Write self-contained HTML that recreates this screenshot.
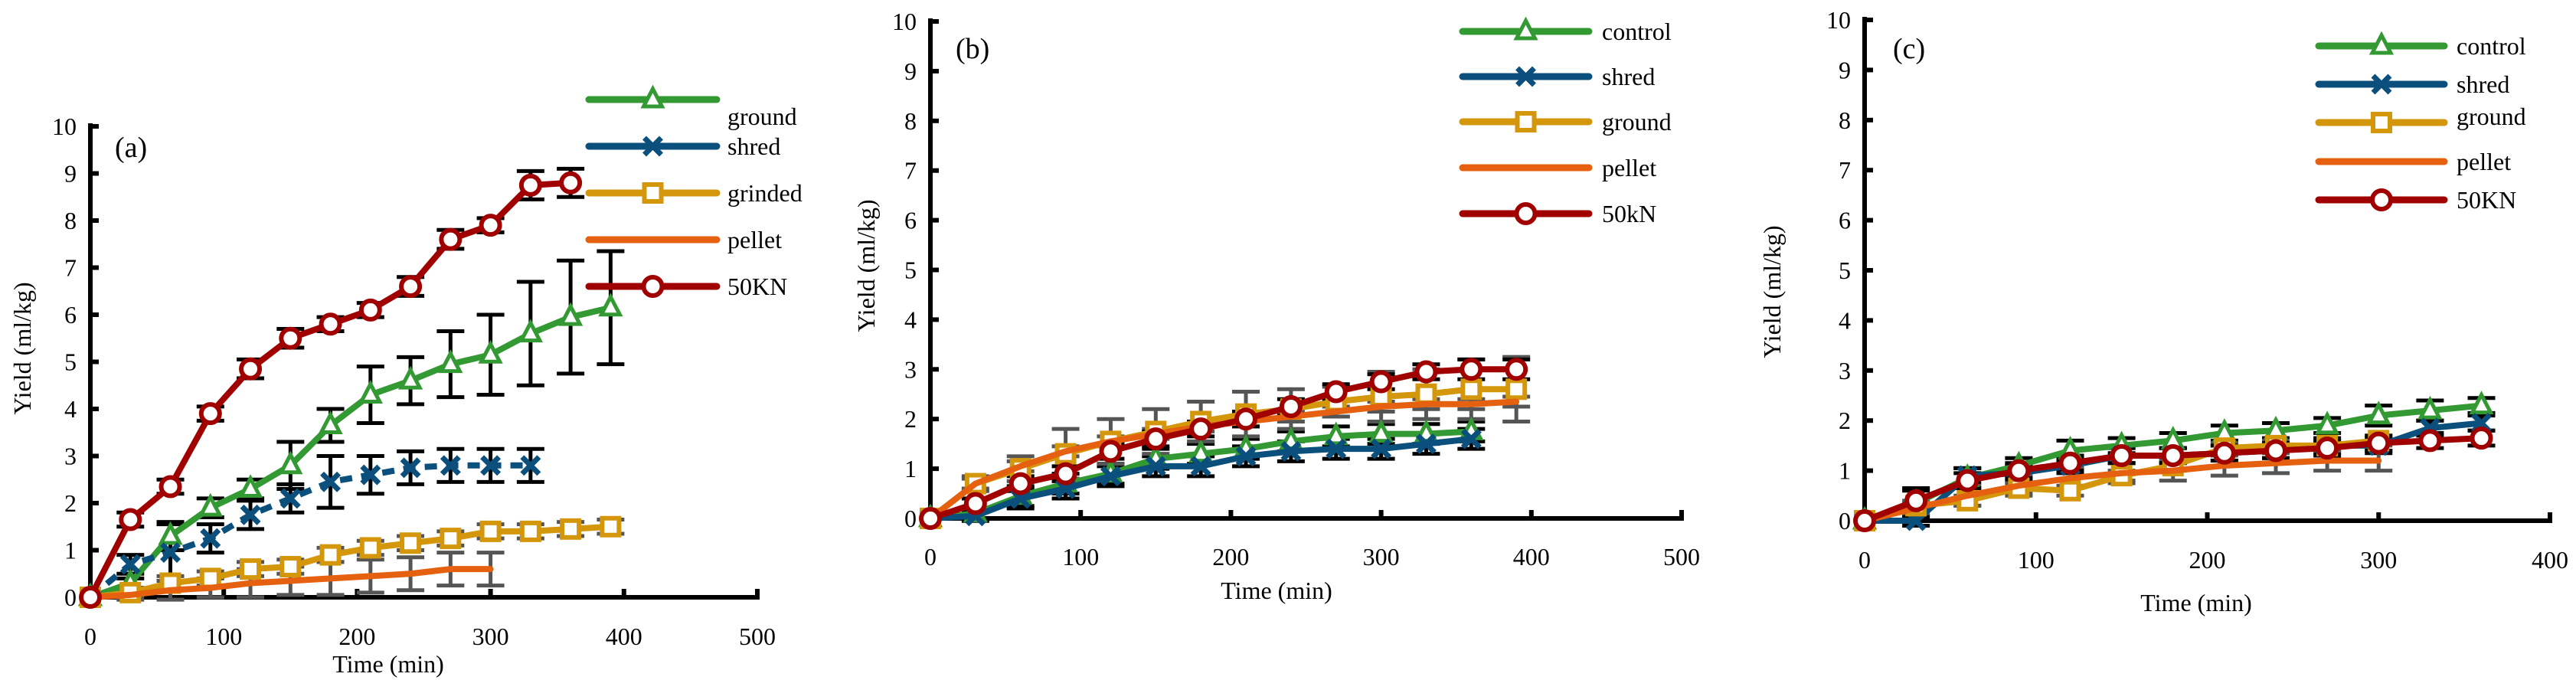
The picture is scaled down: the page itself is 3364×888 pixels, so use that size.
<!DOCTYPE html>
<html><head><meta charset="utf-8"><style>
html,body{margin:0;padding:0;background:#fff;}
svg{display:block;font-family:"Liberation Serif",serif;}
</style></head><body>
<svg id="chart" width="3364" height="888" viewBox="0 0 3364 888" xmlns="http://www.w3.org/2000/svg"></svg>
<script>
// ---- Panel (a) data ----
const aTimes = [0,30,60,90,120,150,180,210,240,270,300,330,360,390];
const aGround = [0,0.3,1.3,1.9,2.3,2.8,3.65,4.3,4.6,4.95,5.15,5.6,5.95,6.15];
const aGroundErr = [0,0.1,0.3,0.2,0.2,0.5,0.35,0.6,0.5,0.7,0.85,1.1,1.2,1.2];
const aShred = [0,0.7,0.95,1.25,1.75,2.1,2.45,2.6,2.75,2.8,2.8,2.8];
const aShredErr = [0,0.2,0.6,0.3,0.3,0.3,0.55,0.4,0.35,0.35,0.35,0.35];
const aGrinded = [0,0.1,0.3,0.4,0.6,0.65,0.9,1.05,1.15,1.25,1.4,1.4,1.45,1.5];
const aGrindedErr = [0,0.1,0.15,0.15,0.15,0.15,0.15,0.15,0.15,0.15,0.15,0.15,0.15,0.15];
const aPellet = [0,0.05,0.15,0.2,0.3,0.35,0.4,0.45,0.5,0.6,0.6];
const aPelletErr = [0,0.1,0.2,0.2,0.3,0.3,0.35,0.35,0.35,0.35,0.35];
const a50KN = [0,1.65,2.35,3.9,4.85,5.5,5.8,6.1,6.6,7.6,7.9,8.75,8.8];
const a50KNErr = [0,0.15,0.15,0.15,0.2,0.2,0.15,0.15,0.2,0.2,0.15,0.3,0.3];
const aXTicks = [0,100,200,300,400,500];
const aYTicks = [0,1,2,3,4,5,6,7,8,9,10];
const aLegend = ["ground","shred","grinded","pellet","50KN"];

// ---- Panel (b) data ----
const bTimes = [0,30,60,90,120,150,180,210,240,270,300,330,360,390];
const bControl = [0,0.1,0.45,0.7,0.9,1.2,1.3,1.4,1.55,1.65,1.7,1.7,1.75];
const bControlErr = [0,0.1,0.2,0.2,0.2,0.2,0.2,0.2,0.2,0.2,0.2,0.2,0.2];
const bShred = [0,0.05,0.4,0.6,0.85,1.05,1.05,1.25,1.35,1.4,1.4,1.5,1.6];
const bShredErr = [0,0.1,0.2,0.2,0.2,0.2,0.2,0.2,0.2,0.2,0.2,0.2,0.2];
const bGround = [0,0.7,1.0,1.3,1.55,1.75,1.95,2.1,2.2,2.35,2.45,2.5,2.6,2.6];
const bGroundErr = [0,0.15,0.25,0.5,0.45,0.45,0.4,0.45,0.4,0.3,0.5,0.5,0.6,0.65];
const bPellet = [0,0.7,1.05,1.35,1.55,1.7,1.85,1.95,2.05,2.15,2.25,2.3,2.3,2.35];
const bPelletErr = [0,0.1,0.1,0.1,0.1,0.1,0.1,0.1,0.1,0.1,0.1,0.1,0.1,0.1];
const b50kN = [0,0.3,0.7,0.9,1.35,1.6,1.8,2.0,2.25,2.55,2.75,2.95,3.0,3.0];
const b50kNErr = [0,0.1,0.15,0.15,0.15,0.15,0.15,0.15,0.15,0.15,0.15,0.15,0.2,0.2];
const bXTicks = [0,100,200,300,400,500];
const bYTicks = [0,1,2,3,4,5,6,7,8,9,10];
const bLegend = ["control","shred","ground","pellet","50kN"];

// ---- Panel (c) data ----
const cTimes = [0,30,60,90,120,150,180,210,240,270,300,330,360];
const cControl = [0,0.35,0.85,1.1,1.4,1.5,1.6,1.75,1.8,1.9,2.1,2.2,2.3];
const cControlErr = [0,0.3,0.2,0.15,0.2,0.15,0.15,0.15,0.15,0.15,0.2,0.2,0.15];
const cShred = [0,0,0.9,0.95,1.1,1.3,1.3,1.35,1.4,1.5,1.5,1.85,1.95];
const cShredErr = [0,0.1,0.15,0.15,0.15,0.15,0.15,0.15,0.15,0.15,0.15,0.15,0.15];
const cGround = [0,0.3,0.4,0.65,0.6,0.9,1.1,1.45,1.5,1.5,1.6];
const cGroundErr = [0,0.1,0.1,0.1,0.1,0.1,0.1,0.1,0.1,0.1,0.1];
const cPellet = [0,0.25,0.5,0.7,0.85,0.95,1.0,1.1,1.15,1.2,1.2];
const cPelletErr = [0,0.1,0.2,0.2,0.2,0.2,0.2,0.2,0.2,0.2,0.2];
const c50KN = [0,0.4,0.8,1.0,1.15,1.3,1.3,1.35,1.4,1.45,1.55,1.6,1.65];
const c50KNErr = [0,0.2,0.15,0.15,0.15,0.15,0.15,0.15,0.15,0.15,0.15,0.15,0.15];
const cXTicks = [0,100,200,300,400];
const cYTicks = [0,1,2,3,4,5,6,7,8,9,10];
const cLegend = ["control","shred","ground","pellet","50KN"];

const NS = "http://www.w3.org/2000/svg";
const svg = document.getElementById("chart");
const COLORS = ["#339933","#0b4f7c","#d4960a","#e5600f","#a00000"];
const MARKERS = ["tri","x","sq","none","circ"];

function mk(tag, attrs, parent){
  const e = document.createElementNS(NS, tag);
  for (const k in attrs) e.setAttribute(k, attrs[k]);
  parent.appendChild(e);
  return e;
}

function marker(g, type, x, y, color){
  let m;
  if (type === "tri") {
    m = mk("polygon", {points:`${x},${y-14} ${x-12},${y+9} ${x+12},${y+9}`, fill:"#fff", stroke:color, "stroke-width":5}, g);
  } else if (type === "x") {
    m = mk("path", {d:`M${x-11},${y-11}L${x+11},${y+11}M${x-11},${y+11}L${x+11},${y-11}`, stroke:color, "stroke-width":7, fill:"none"}, g);
  } else if (type === "sq") {
    m = mk("rect", {x:x-11, y:y-11, width:22, height:22, fill:"#fff", stroke:color, "stroke-width":6}, g);
  } else if (type === "circ") {
    m = mk("circle", {cx:x, cy:y, r:12, fill:"#fff", stroke:color, "stroke-width":6}, g);
  } else {
    m = mk("rect", {x:x-8, y:y-3, width:16, height:6, fill:color}, g);
  }
  
  
}

function panel(p){
  const g = mk("g", {}, svg);
  
  
  const X = v => p.x0 + (v - 0) / p.xmax * (p.x1 - p.x0);
  const Y = v => p.y0 - v / 10 * (p.y0 - p.y10);

  const ya = mk("line", {x1:p.x0, y1:p.y10-4, x2:p.x0, y2:p.y0+3, stroke:"#000", "stroke-width":6}, g);
  
  
  const xa = mk("line", {x1:p.x0-3, y1:p.y0, x2:p.x1, y2:p.y0, stroke:"#000", "stroke-width":6}, g);
  
  

  p.yTicks.forEach(v => {
    const t = mk("line", {x1:p.x0, y1:Y(v), x2:p.x0+11, y2:Y(v), stroke:"#000", "stroke-width":6}, g);
    
    
    const l = mk("text", {x:p.x0-18, y:Y(v)+11, "font-size":32, "text-anchor":"end"}, g);
    l.textContent = v;
    
    
  });
  p.xTicks.forEach(v => {
    const t = mk("line", {x1:X(v), y1:p.y0-11, x2:X(v), y2:p.y0+3, stroke:"#000", "stroke-width":6}, g);
    
    
    const l = mk("text", {x:X(v), y:p.tickY, "font-size":32, "text-anchor":"middle"}, g);
    l.textContent = v;
    
    
  });

  const xt = mk("text", {x:p.xtX, y:p.xtY, "font-size":32, "text-anchor":"middle"}, g);
  xt.textContent = "Time (min)";
  
  
  const yt = mk("text", {x:0, y:0, "font-size":32, "text-anchor":"middle", transform:`translate(${p.ytX},${p.ytY}) rotate(-90)`}, g);
  yt.textContent = "Yield (ml/kg)";
  
  
  const pl = mk("text", {x:p.lblX, y:p.lblY, "font-size":38}, g);
  pl.textContent = "(" + p.id + ")";
  
  

  p.series.forEach((s, i) => {
    s.vals.forEach((v, j) => {
      const e = s.err[j]; if (!e) return;
      const x = X(p.times[j]);
      const col = (i === 3 || i === 2) ? "#555" : "#000";
      const eb = mk("path", {d:`M${x},${Y(v+e)}L${x},${Y(v-e)}M${x-18},${Y(v+e)}L${x+18},${Y(v+e)}M${x-18},${Y(v-e)}L${x+18},${Y(v-e)}`, stroke:col, "stroke-width":5, fill:"none"}, g);
      
      
    });
  });

  p.series.forEach((s, i) => {
    const pts = s.vals.map((v, j) => X(p.times[j]) + "," + Y(v)).join(" ");
    const attrs = {points:pts, fill:"none", stroke:COLORS[i], "stroke-width":8, "stroke-linejoin":"round", "stroke-linecap":"round"};
    if (p.dashed && p.dashed[i]) { attrs["stroke-dasharray"] = "16 12"; attrs["stroke-linecap"] = "butt"; }
    const ln = mk("polyline", attrs, g);
    
    
    s.vals.forEach((v, j) => { if (MARKERS[i] !== "none") marker(g, MARKERS[i], X(p.times[j]), Y(v), COLORS[i]); });
  });

  p.legend.forEach((name, i) => {
    const ly = p.legY[i];
    const lg = mk("g", {}, g);
    
    
    mk("line", {x1:p.legX0, y1:ly, x2:p.legX1, y2:ly, stroke:COLORS[i], "stroke-width":9, "stroke-linecap":"round"}, lg);
    marker(lg, MARKERS[i], (p.legX0 + p.legX1) / 2, ly, COLORS[i]);
    const t = mk("text", {x:p.legTX, y:ly + 11 + (p.legOff[i] || 0), "font-size":32}, lg);
    t.textContent = name;
  });
}

panel({id:"a", x0:118, x1:989, xmax:500, y0:780, y10:165, times:aTimes, xTicks:aXTicks, yTicks:aYTicks,
  tickY:842, xtX:507, xtY:878, ytX:40, ytY:455, lblX:150, lblY:205, dashed:[false,true,false,false,false],
  series:[{vals:aGround,err:aGroundErr},{vals:aShred,err:aShredErr},{vals:aGrinded,err:aGrindedErr},{vals:aPellet,err:aPelletErr},{vals:a50KN,err:a50KNErr}],
  legend:aLegend, legY:[130,191,252,313,374], legX0:769, legX1:936, legTX:950, legOff:[22,0,0,0,0]});

panel({id:"b", x0:1215, x1:2196, xmax:500, y0:677, y10:28, times:bTimes, xTicks:bXTicks, yTicks:bYTicks,
  tickY:738, xtX:1667, xtY:782, ytX:1142, ytY:347, lblX:1248, lblY:76,
  series:[{vals:bControl,err:bControlErr},{vals:bShred,err:bShredErr},{vals:bGround,err:bGroundErr},{vals:bPellet,err:bPelletErr},{vals:b50kN,err:b50kNErr}],
  legend:bLegend, legY:[41,100,159,219,279], legX0:1910, legX1:2075, legTX:2092, legOff:[0,0,0,0,0]});

panel({id:"c", x0:2435, x1:3330, xmax:400, y0:680, y10:26, times:cTimes, xTicks:cXTicks, yTicks:cYTicks,
  tickY:742, xtX:2868, xtY:798, ytX:2325, ytY:381, lblX:2472, lblY:76,
  series:[{vals:cControl,err:cControlErr},{vals:cShred,err:cShredErr},{vals:cGround,err:cGroundErr},{vals:cPellet,err:cPelletErr},{vals:c50KN,err:c50KNErr}],
  legend:cLegend, legY:[60,110,160,211,261], legX0:3028, legX1:3192, legTX:3208, legOff:[0,0,-8,0,0]});
</script>
</body></html>
